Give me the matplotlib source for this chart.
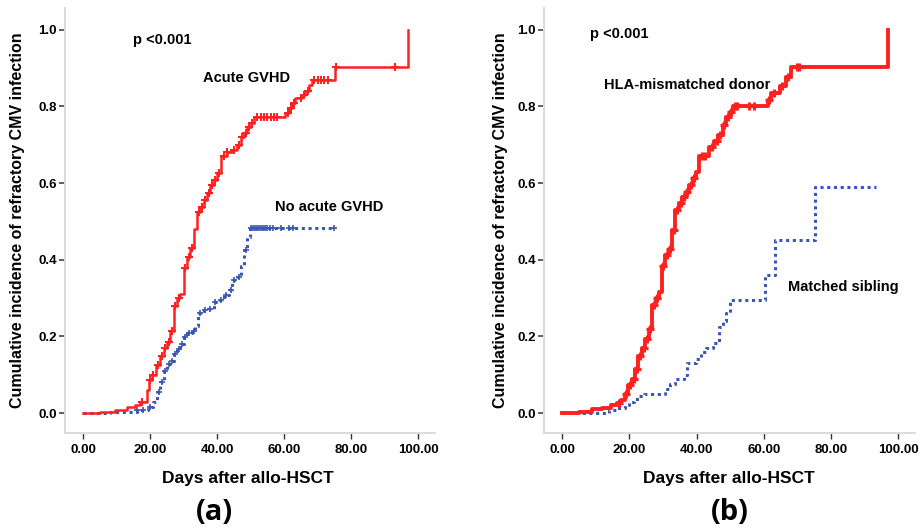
import numpy as np
import matplotlib
matplotlib.use("Agg")
import matplotlib.pyplot as plt

plt.rcParams['font.family'] = ['Liberation Sans', 'DejaVu Sans']

# ---- panel (a): acute GVHD vs no acute GVHD
a_red_t = [0, 5, 9.5, 13, 15.5, 17, 19, 19.8, 20.5, 21.8, 23, 24, 25, 26, 27, 28, 29, 30, 31, 32,
           33, 34, 35, 36, 37, 38, 39, 40, 41, 43, 44.5, 46, 47, 48, 49, 50, 51, 60.3, 61.3, 62.3,
           63.3, 65.3, 66.3, 67.3, 68.3, 75.2, 96.8]
a_red_y = [0, 0.004, 0.008, 0.016, 0.02, 0.03, 0.06, 0.085, 0.10, 0.125, 0.15, 0.17, 0.185, 0.215,
           0.28, 0.30, 0.31, 0.378, 0.408, 0.43, 0.48, 0.525, 0.538, 0.556, 0.574, 0.595, 0.608,
           0.626, 0.671, 0.68, 0.687, 0.70, 0.72, 0.73, 0.747, 0.757, 0.772, 0.783, 0.795, 0.81,
           0.822, 0.83, 0.84, 0.857, 0.87, 0.904, 1.0]
a_red_cens = [17.5, 20, 21, 22.2, 23.4, 24.5, 25.5, 26.5, 27.5, 28.5, 30.5, 31.5, 32.5, 34.5, 35.5,
              36.5, 37.5, 38.5, 39.5, 40.5, 42, 43, 45, 46.5, 47.5, 48.5, 49.5, 50.5, 52, 53, 54,
              55, 56, 57, 58, 61, 62, 63, 65, 66, 67, 69, 70, 71, 72, 73, 75.6, 93]

a_blue_t = [0, 8, 13, 16, 19.5, 21, 22, 23, 24, 25, 26, 27, 28, 29, 30, 31, 32.5, 33.4, 34.3, 36,
            37.4, 39, 40.4, 42, 43.4, 44.4, 46, 47, 48, 49, 49.7, 75.2]
a_blue_y = [0, 0.002, 0.004, 0.007, 0.016, 0.03, 0.055, 0.08, 0.11, 0.128, 0.137, 0.155, 0.168,
            0.18, 0.198, 0.21, 0.215, 0.228, 0.26, 0.268, 0.272, 0.29, 0.294, 0.307, 0.32, 0.347,
            0.355, 0.385, 0.425, 0.46, 0.483, 0.483]
a_blue_cens = [16, 18, 20, 22.5, 23.5, 24.5, 25.5, 26.5, 27.5, 28.5, 29.5, 30.5, 31.5, 33, 35,
               36.5, 38, 39.5, 41, 42.5, 44, 45, 46.5, 48.5, 50, 50.6, 51.2, 51.8, 52.4, 53, 53.6,
               54.2, 55, 55.8, 56.6, 59, 61.5, 62.5, 75]

# ---- panel (b): HLA-mismatched donor vs matched sibling
b_red_t = [0, 5, 9, 12, 14.4, 16.4, 17.6, 18.8, 19.5, 20.9, 21.7, 22.7, 23.9, 24.7, 25.7, 26.7,
           27.8, 28.8, 29.6, 30.6, 31.7, 32.8, 33.7, 34.8, 35.8, 36.8, 37.8, 38.8, 39.8, 40.8,
           43.8, 45.3, 46.3, 47.8, 48.8, 49.8, 50.8, 61.2, 62.2, 64.7, 66.6, 68, 97]
b_red_y = [0, 0.003, 0.01, 0.013, 0.02, 0.025, 0.034, 0.05, 0.074, 0.09, 0.115, 0.15, 0.17, 0.193,
           0.22, 0.281, 0.30, 0.315, 0.385, 0.413, 0.427, 0.478, 0.53, 0.548, 0.565, 0.577, 0.595,
           0.613, 0.63, 0.67, 0.695, 0.71, 0.726, 0.752, 0.773, 0.786, 0.80, 0.817, 0.835, 0.853,
           0.878, 0.904, 1.0]
b_red_cens = [17, 19, 20.2, 21.3, 22.2, 23.3, 24.3, 25.2, 26.2, 27.3, 28.3, 30.1, 31.1, 32.2,
              33.2, 34.2, 35.3, 36.3, 37.3, 38.3, 39.3, 41.5, 42.5, 44.5, 46, 47, 48.3, 49.3, 50.3,
              51.5, 52, 55.5, 57, 61.7, 63, 65.5, 67.3, 70, 70.6]

b_blue_t = [0, 6, 14, 16, 18.8, 20, 21.5, 23, 24.4, 30.7, 32.2, 33.7, 36.3, 37.3, 39.8, 41.3,
            42.8, 44.8, 46.8, 47.8, 48.8, 49.8, 60.3, 63.3, 75.2, 93.4]
b_blue_y = [0, 0.0, 0.007, 0.013, 0.02, 0.03, 0.037, 0.045, 0.05, 0.063, 0.075, 0.09, 0.1, 0.13,
            0.14, 0.16, 0.17, 0.183, 0.225, 0.24, 0.26, 0.295, 0.36, 0.452, 0.59, 0.59]

x_ticks = [0, 20, 40, 60, 80, 100]
y_ticks = [0.0, 0.2, 0.4, 0.6, 0.8, 1.0]

RED = '#ff2020'
BLUE = '#3a55b4'
W, H = 924, 531


def step_val(t, y, x):
    idx = np.searchsorted(t, x, side='right') - 1
    return np.asarray(y)[idx]


def panel(ax, rt, ry, rc, bt, by, bc, red_lw):
    ax.step(bt, by, where='post', color=BLUE, lw=2.2, ls=(0, (1, 1.2)))
    if bc:
        ax.plot(bc, step_val(bt, by, bc), ls='none', marker='+', ms=5, mew=1.2, color=BLUE)
    ax.step(rt, ry, where='post', color=RED, lw=red_lw)
    ax.plot(rc, step_val(rt, ry, rc), ls='none', marker='+', ms=6, mew=red_lw * 0.8, color=RED)

    ax.set_xlim(-5.4, 105)
    ax.set_ylim(-0.052, 1.057)
    for s in ['top', 'right']:
        ax.spines[s].set_visible(False)
    for s in ['left', 'bottom']:
        ax.spines[s].set_color('#dcdcdc')
        ax.spines[s].set_linewidth(1.5)
    ax.set_xticks(x_ticks)
    ax.set_xticklabels(['%.2f' % v for v in x_ticks])
    ax.set_yticks(y_ticks)
    ax.set_yticklabels(['%.1f' % v for v in y_ticks])
    ax.tick_params(axis='both', colors='#333333', labelcolor='black', direction='out')
    ax.tick_params(axis='y', length=4.5, width=1.1, pad=1.5)
    ax.tick_params(axis='x', length=4, width=1, pad=4)
    for lab in ax.get_xticklabels() + ax.get_yticklabels():
        lab.set_family(['Liberation Sans Narrow', 'Liberation Sans'])
        lab.set_fontweight('bold')
        lab.set_fontsize(9.5)


fig = plt.figure(figsize=(W / 100, H / 100), dpi=100)
ax1 = fig.add_axes([65 / W, 1 - 433 / H, 370 / W, 425 / H])
ax2 = fig.add_axes([544 / W, 1 - 433 / H, 371 / W, 425 / H])

panel(ax1, a_red_t, a_red_y, a_red_cens, a_blue_t, a_blue_y, a_blue_cens, 1.8)
panel(ax2, b_red_t, b_red_y, b_red_cens, b_blue_t, b_blue_y, [], 2.8)

tb = dict(fontsize=10.5, fontweight='bold', va='center', ha='left')
ax1.text(15, 0.974, 'p <0.001', **tb)
ax1.text(35.8, 0.875, 'Acute GVHD', **tb)
ax1.text(57.3, 0.538, 'No acute GVHD', **tb)
ax2.text(8.4, 0.99, 'p <0.001', **tb)
ax2.text(12.5, 0.856, 'HLA-mismatched donor', **tb)
ax2.text(67.2, 0.329, 'Matched sibling', **tb)

ylab = 'Cumulative incidence of refractory CMV infection'
fig.text(18 / W, 1 - 220 / H, ylab, rotation=90, ha='center', va='center',
         fontsize=11.5, fontweight='bold')
fig.text(500 / W, 1 - 220 / H, ylab, rotation=90, ha='center', va='center',
         fontsize=11.5, fontweight='bold')

fig.text(248 / W, 1 - 478 / H, 'Days after allo-HSCT', ha='center', va='center',
         fontsize=12.5, fontweight='bold')
fig.text(729 / W, 1 - 478 / H, 'Days after allo-HSCT', ha='center', va='center',
         fontsize=12.5, fontweight='bold')

fig.text(214 / W, 1 - 513 / H, '(a)', ha='center', va='center', fontsize=21,
         fontweight='bold', family=['Open Sans', 'DejaVu Sans'])
fig.text(730 / W, 1 - 513 / H, '(b)', ha='center', va='center', fontsize=21,
         fontweight='bold', family=['Open Sans', 'DejaVu Sans'])

fig.savefig('out.png', dpi=100)
